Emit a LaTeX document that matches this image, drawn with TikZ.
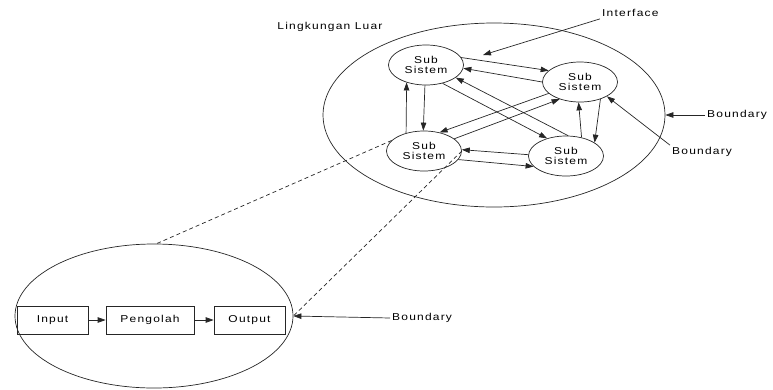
\documentclass[tikz,border=0pt]{standalone}
\usepackage{fontspec}
\setmainfont{Liberation Sans}[FakeStretch=1.2,LetterSpace=12]
\usetikzlibrary{arrows.meta, shapes.geometric}

\begin{document}
\begin{tikzpicture}[
  x=1bp, y=-1bp,
  >={Triangle[length=8bp, width=5.5bp]},
  arr/.style={->, line width=0.7bp, black!85},
  font=\fontsize{10bp}{10.5bp}\selectfont,
]

% =============================================
% Styles
% =============================================
\tikzset{
  envell/.style 2 args={
    draw=black!85, ellipse, line width=0.7bp, inner sep=0pt,
    minimum width=#1, minimum height=#2,
  },
  subsys/.style={
    draw=black!85, ellipse, line width=0.7bp, inner sep=0pt,
    minimum width=75bp, minimum height=40bp, align=center,
  },
  procbox/.style={
    draw=black!85, line width=0.7bp, inner sep=0pt,
    minimum width=#1, minimum height=28bp,
  },
  lbl/.style={inner sep=2bp, anchor=west},
  dashln/.style={line width=0.7bp, black!85, dash pattern=on 4bp off 3bp},
}

\useasboundingbox (0,0) rectangle (773,389);

% =============================================
% Environment (upper right) with its sub systems
% =============================================
\node[envell={342bp}{184bp}] (luar) at (494,115) {};
\node[anchor=center] (lingk) at (330,27) {Lingkungan Luar};

\node[subsys] (ss1) at (426,65)  {Sub\\Sistem};
\node[subsys] (ss2) at (580,82)  {Sub\\Sistem};
\node[subsys] (ss3) at (424,151) {Sub\\Sistem};
\node[subsys] (ss4) at (566,156) {Sub\\Sistem};

% pairs of opposite arrows
\draw[arr] (ss1.12)   -- (ss2.160);
\draw[arr] (ss2.180)  -- (ss1.-5);

\draw[arr] (ss3.135)  -- (ss1.-138);
\draw[arr] (ss1.-93)  -- (ss3.92);

\draw[arr] (ss1.-48)  -- (ss4.137);
\draw[arr] (ss4.84)   -- (ss1.-23);

\draw[arr] (ss2.200)  -- (ss3.50);
\draw[arr] (ss3.22)   -- (ss2.-140);

\draw[arr] (ss4.178)  -- (ss3.2);
\draw[arr] (ss3.-14)  -- (ss4.198);

\draw[arr] (ss4.50)   -- (ss2.-94);
\draw[arr] (ss2.-40)  -- (ss4.25);

% =============================================
% Labels on the right
% =============================================
\node[lbl] (intf) at (600,13) {Interface};
\coordinate (intfend) at (483,55);
\draw[arr] (intf.south west) -- (intfend);

\node[lbl] (bnd1) at (705,115) {Boundary};
\draw[arr] (bnd1.west) -- (luar.east);

\node[lbl] (bnd2) at (670,152) {Boundary};
\draw[arr] (bnd2.north west) -- (ss2.-28);

% =============================================
% System (lower left): Input -> Pengolah -> Output
% =============================================
\node[envell={278bp}{144bp}] (sistem) at (154,316) {};

\node[procbox=71bp] (input)    at (52.5,320)  {Input};
\node[procbox=88bp] (pengolah) at (150,320)   {Pengolah};
\node[procbox=71bp] (output)   at (249.5,320) {Output};

\draw[arr] (input) -- (pengolah);
\draw[arr] (pengolah) -- (output);

\node[lbl] (bnd3) at (390,318) {Boundary};
\draw[arr] (bnd3.west) -- (sistem.east);

% =============================================
% Zoom lines from sub system to system
% =============================================
\draw[dashln] (ss3.162) -- (sistem.88);
\draw[dashln] (ss3.east) -- (sistem.east);

\end{tikzpicture}
\end{document}
